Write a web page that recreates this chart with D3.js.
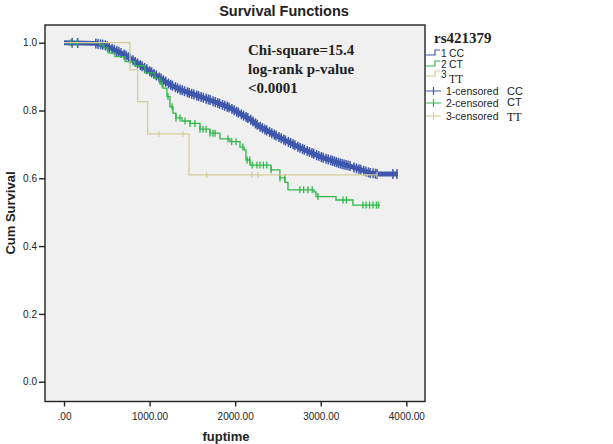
<!DOCTYPE html>
<html lang="en">
<head>
<meta charset="utf-8">
<title>Survival Functions</title>
<script src="https://cdn.jsdelivr.net/npm/d3@7"></script>
<style>
  body { margin: 0; background: #fff; }
  svg { display: block; }
  text { font-family: Arial, "Liberation Sans", sans-serif; fill: #222; }
  .serif { font-family: "Times New Roman", "Liberation Serif", serif; }
</style>
</head>
<body>
<script>
// Kaplan-Meier curves: [time, cumulative survival]
var ccCurve = [[0, 1.0], [362, 0.998], [479, 0.993], [596, 0.978], [713, 0.964], [829, 0.944],
  [946, 0.925], [1063, 0.906], [1180, 0.886], [1238, 0.877], [1355, 0.862], [1472, 0.851],
  [1706, 0.831], [1939, 0.808], [2173, 0.774], [2290, 0.752], [2523, 0.720], [2757, 0.690],
  [2991, 0.664], [3224, 0.644], [3341, 0.636], [3458, 0.626], [3575, 0.616], [3657, 0.613],
  [3900, 0.613]];
var ctCurve = [[0, 1.0], [362, 1.0], [421, 0.993], [467, 0.985], [514, 0.970], [596, 0.959],
  [713, 0.944], [829, 0.932], [946, 0.911], [1063, 0.895], [1121, 0.878], [1157, 0.866],
  [1203, 0.841], [1238, 0.811], [1273, 0.792], [1308, 0.778], [1379, 0.769], [1472, 0.762],
  [1589, 0.745], [1706, 0.733], [1822, 0.716], [1939, 0.708], [2056, 0.692], [2103, 0.684],
  [2126, 0.654], [2173, 0.639], [2418, 0.625], [2523, 0.601], [2582, 0.588], [2617, 0.566],
  [2921, 0.560], [2944, 0.546], [3154, 0.546], [3178, 0.536], [3364, 0.536], [3376, 0.521],
  [3692, 0.521]];
var ttCurve = [[0, 1.0], [771, 0.92], [861, 0.826], [978, 0.731], [1460, 0.610], [3657, 0.610]];

// censored observation times
var ccCensor = [95, 160, 372, 398, 428, 452, 483, 507, 528, 562, 588, 617, 641, 666, 702, 724,
  753, 776, 806, 833, 860, 892, 913, 942, 968, 1003, 1024, 1052, 1078, 1112, 1133, 1162, 1188,
  1221, 1247, 1268, 1302, 1328, 1357, 1381, 1408, 1442, 1463, 1492, 1518, 1552, 1573, 1602, 1628,
  1661, 1687, 1708, 1742, 1768, 1797, 1818, 1852, 1878, 1907, 1928, 1962, 1988, 2017, 2038, 2072,
  2098, 2127, 2148, 2182, 2208, 2237, 2258, 2292, 2318, 2347, 2368, 2402, 2428, 2457, 2478, 2512,
  2538, 2567, 2588, 2622, 2648, 2677, 2698, 2732, 2758, 2787, 2808, 2842, 2868, 2897, 2918, 2952,
  2978, 3007, 3028, 3062, 3088, 3117, 3138, 3160, 3182, 3205, 3228, 3250, 3272, 3295, 3318, 3342,
  3388, 3418, 3447, 3468, 3502, 3528, 3557, 3578, 3612, 3640, 3658, 3843, 3890];
var ctCensor = [70, 152, 1145, 1215, 1262, 1308, 1355, 1414, 1472, 1530, 1589, 1625, 1660, 1706,
  1740, 1765, 1916, 1960, 2010, 2090, 2140, 2170, 2200, 2255, 2290, 2330, 2370, 2420, 2523, 2580,
  2757, 2800, 2850, 2900, 2967, 3260, 3300, 3493, 3530, 3570, 3610, 3650, 3675];
var ttCensor = [1110, 1390, 1667, 2193, 2266, 3657];

var xTicks = [0, 1000, 2000, 3000, 4000];
var yTicks = [0, 0.2, 0.4, 0.6, 0.8, 1.0];

var colors = { cc: "#3e58ac", ct: "#2eb848", tt: "#d3ce97" };

var w = 613, h = 444;
var box = { left: 45, right: 425, top: 25, bottom: 401.5 };

var svg = d3.select("body").append("svg")
    .attr("width", w)
    .attr("height", h);

var x = d3.scaleLinear().domain([-222, 4218]).range([box.left, box.right]);
var y = d3.scaleLinear().domain([-0.0584, 1.0522]).range([box.bottom, box.top]);

// plot area
svg.append("rect")
    .attr("x", box.left).attr("y", box.top)
    .attr("width", box.right - box.left).attr("height", box.bottom - box.top)
    .attr("fill", "#f0f0f0")
    .attr("stroke", "#222")
    .attr("stroke-width", 1.4);

svg.append("g")
    .attr("transform", "translate(0," + box.bottom + ")")
    .call(d3.axisBottom(x).tickValues(xTicks).tickSize(5).tickSizeOuter(0)
      .tickFormat(function(d) { return d === 0 ? ".00" : d.toFixed(2); }))
    .call(function(g) { g.select(".domain").remove(); })
    .call(function(g) {
      g.selectAll("line").attr("stroke", "#222").attr("stroke-width", 1.4);
      g.selectAll("text").attr("font-size", 10).attr("fill", "#333").attr("dy", "1.05em");
    });

svg.append("g")
    .attr("transform", "translate(" + box.left + ",0)")
    .call(d3.axisLeft(y).tickValues(yTicks).tickSize(6).tickSizeOuter(0).tickFormat(d3.format(".1f")))
    .call(function(g) { g.select(".domain").remove(); })
    .call(function(g) {
      g.selectAll("line").attr("stroke", "#222").attr("stroke-width", 1.4);
      g.selectAll("text").attr("font-size", 10).attr("fill", "#333").attr("x", -8);
    });

// curves
var stepLine = d3.line().x(function(d) { return x(d[0]); }).y(function(d) { return y(d[1]); })
    .curve(d3.curveStepAfter);
var smoothLine = d3.line().x(function(d) { return x(d[0]); }).y(function(d) { return y(d[1]); });

function stepAt(curve, t) {
  var i = d3.bisector(function(d) { return d[0]; }).right(curve, t) - 1;
  return curve[Math.max(0, i)][1];
}
var ccAt = d3.scaleLinear().domain(ccCurve.map(function(d) { return d[0]; }))
    .range(ccCurve.map(function(d) { return d[1]; }));

function censorMarks(times, surv, color, half, sw) {
  var g = svg.append("g").attr("stroke", color).attr("stroke-width", sw);
  times.forEach(function(t) {
    var cx = x(t), cy = y(surv(t));
    g.append("line").attr("x1", cx).attr("x2", cx).attr("y1", cy - half).attr("y2", cy + half);
  });
}

svg.append("path").datum(ccCurve).attr("d", smoothLine)
    .attr("fill", "none").attr("stroke", colors.cc).attr("stroke-width", 5);
censorMarks(ccCensor, function(t) { return ccAt(t); }, colors.cc, 5, 1.5);

svg.append("path").datum(ctCurve).attr("d", stepLine)
    .attr("fill", "none").attr("stroke", colors.ct).attr("stroke-width", 1.3);
censorMarks(ctCensor, function(t) { return stepAt(ctCurve, t); }, colors.ct, 3.5, 1.3);

svg.append("path").datum(ttCurve).attr("d", stepLine)
    .attr("fill", "none").attr("stroke", colors.tt).attr("stroke-width", 1.3);
censorMarks(ttCensor, function(t) { return stepAt(ttCurve, t); }, colors.tt, 3, 1.2);

// titles
svg.append("text").attr("x", 284).attr("y", 16).attr("text-anchor", "middle")
    .attr("font-size", 14.5).attr("font-weight", "bold").text("Survival Functions");
svg.append("text").attr("x", 226).attr("y", 441).attr("text-anchor", "middle")
    .attr("font-size", 13).attr("font-weight", "bold").text("fuptime");
svg.append("text").attr("transform", "translate(15,213) rotate(-90)").attr("text-anchor", "middle")
    .attr("font-size", 13).attr("font-weight", "bold").text("Cum Survival");

// test statistics
var stats = ["Chi-square=15.4", "log-rank p-value", "<0.0001"];
svg.append("g").selectAll("text").data(stats).join("text")
    .attr("class", "serif")
    .attr("x", 248).attr("y", function(d, i) { return 55 + i * 19; })
    .attr("font-size", 15).attr("font-weight", "bold").attr("fill", "#111")
    .text(function(d) { return d; });

// legend
svg.append("text").attr("class", "serif").attr("x", 434).attr("y", 43)
    .attr("font-size", 15).attr("font-weight", "bold").text("rs421379");

var legendSteps = [
  { key: "cc", num: "1", label: "CC", y: 53, ny: 57, ly: 57 },
  { key: "ct", num: "2", label: "CT", y: 64, ny: 68, ly: 68 },
  { key: "tt", num: "3", label: "TT", y: 74, ny: 78, ly: 83, serif: true }
];
legendSteps.forEach(function(d) {
  svg.append("path")
      .attr("d", "M426," + (d.y + 2) + "H435V" + (d.y - 3) + "H440")
      .attr("fill", "none").attr("stroke", colors[d.key]).attr("stroke-width", 1.2);
  svg.append("text").attr("x", 441).attr("y", d.ny).attr("font-size", 10).text(d.num);
  svg.append("text").attr("x", 449).attr("y", d.ly).attr("font-size", d.serif ? 11.5 : 10.5)
      .attr("class", d.serif ? "serif" : null).text(d.label);
});

var legendCensor = [
  { key: "cc", label: "1-censored", code: "CC", y: 91, cy: 94.5 },
  { key: "ct", label: "2-censored", code: "CT", y: 103, cy: 105.5 },
  { key: "tt", label: "3-censored", code: "TT", y: 116, cy: 121, serif: true }
];
legendCensor.forEach(function(d) {
  svg.append("path")
      .attr("d", "M426," + d.y + "H441M433.5," + (d.y - 4) + "V" + (d.y + 4))
      .attr("fill", "none").attr("stroke", colors[d.key]).attr("stroke-width", 1.2);
  svg.append("text").attr("x", 446).attr("y", d.y + 4).attr("font-size", 10.5).text(d.label);
  svg.append("text").attr("x", 507).attr("y", d.cy).attr("font-size", d.serif ? 12 : 11)
      .attr("class", d.serif ? "serif" : null).text(d.code);
});
</script>
</body>
</html>
